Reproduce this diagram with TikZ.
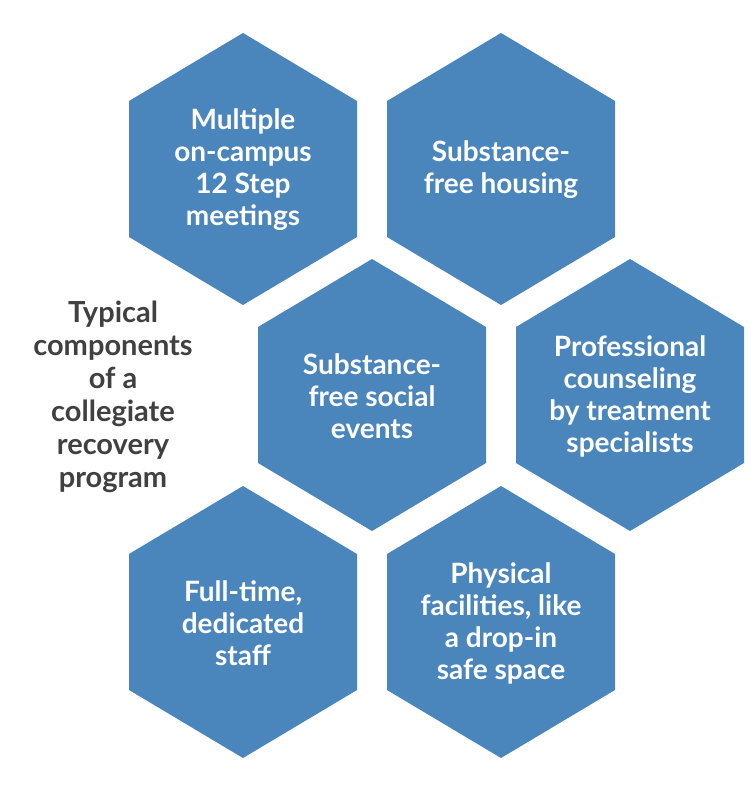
\documentclass[tikz,border=0pt]{standalone}
\usepackage{fontspec}
\setmainfont{Lato}
\definecolor{hexblue}{HTML}{4A86BC}
\definecolor{txtgray}{HTML}{404040}
\tikzset{
  hexlabel/.style={text=white,font=\fontsize{28}{32}\selectfont\bfseries,align=center},
  sidelabel/.style={text=txtgray,font=\fontsize{29}{33}\selectfont\bfseries,align=center}
}
\newcommand{\myhex}[2]{\fill[hexblue] (#1,#2) +(0,136) -- +(114,68) -- +(114,-68) -- +(0,-136) -- +(-114,-68) -- +(-114,68) -- cycle;}
\begin{document}
\begin{tikzpicture}[x=1pt,y=1pt]
\useasboundingbox (0,0) rectangle (750,-792);
\myhex{243}{-169}
\myhex{501}{-169}
\myhex{372}{-395}
\myhex{630}{-395}
\myhex{243}{-622}
\myhex{501}{-622}
\node[hexlabel] (h1) at (243,-170) {Multiple\\on-campus\\12 Step\\meetings};
\node[hexlabel] (h2) at (501,-170) {Substance-\\free housing};
\node[hexlabel] (h3) at (372,-396) {Substance-\\free social\\events};
\node[hexlabel] (h4) at (630,-396) {Professional\\counseling\\by treatment\\specialists};
\node[hexlabel] (h5) at (243,-623) {Full-time,\\dedicated\\staff};
\node[hexlabel] (h6) at (501,-623) {Physical\\facilities, like\\a drop-in\\safe space};
\node[sidelabel] (t) at (113,-397) {Typical\\components\\of a\\collegiate\\recovery\\program};
\end{tikzpicture}
\end{document}
